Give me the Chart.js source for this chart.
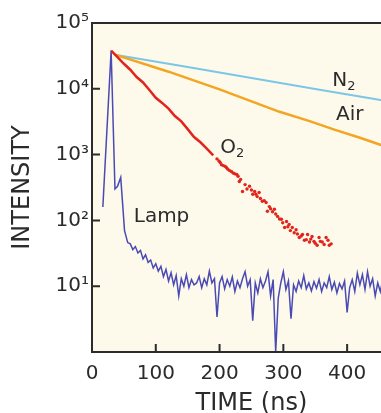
<!DOCTYPE html>
<html>
<head>
<meta charset="utf-8">
<script src="https://cdn.jsdelivr.net/npm/chart.js@4"></script>
<style>
  html, body { margin: 0; padding: 0; background: #fff; overflow: hidden; }
  #wrap { width: 381px; height: 413px; overflow: hidden; }
</style>
</head>
<body>
<div id="wrap"><canvas id="myChart" width="440" height="413"></canvas></div>
<script>
// 軸
var xTickValues = [0, 100, 200, 300, 400, 500];
var yTickValues = [10, 100, 1000, 10000, 100000];
var yTickLabels = ['10¹', '10²', '10³', '10⁴', '10⁵'];

// N2
var n2Time = [36, 150, 250, 350, 450, 500];
var n2Intensity = [33000, 21400, 14600, 9900, 6800, 5600];

// Air
var airTime = [36, 120, 200, 294, 340, 380, 420, 452, 500];
var airIntensity = [33000, 18200, 9800, 4470, 3250, 2400, 1800, 1410, 1000];

// O2 實線
var o2Time = [30, 40, 50, 60, 70, 80, 90, 100, 110, 120, 130, 140, 150, 160, 170, 180, 190];
var o2Intensity = [38000, 30200, 24000, 19500, 15100, 12500, 9600, 7300, 6100, 5000, 3850, 3200, 2440, 1850, 1540, 1230, 977];

// O2 散點
var o2DotTime = [196, 199, 201, 203, 206, 209, 211, 213, 216, 219, 222, 224, 227, 229, 231, 233, 236, 240, 243,
  247, 250, 252, 255, 257, 259, 262, 264, 267, 270, 273, 275, 278, 280, 283, 286, 288, 291, 294, 297, 299,
  302, 305, 307, 309, 311, 314, 317, 320, 322, 325, 328, 330, 333, 336, 338, 341, 343, 345, 348, 350,
  353, 356, 358, 361, 364, 367, 370, 372, 375];
var o2DotIntensity = [860, 800, 760, 700, 680, 660, 630, 600, 570, 550, 520, 510, 500, 470, 390, 420, 275, 350, 300,
  330, 290, 250, 275, 250, 230, 265, 215, 195, 200, 187, 138, 162, 150, 135, 148, 125, 115, 105, 104, 92,
  78, 96, 80, 87, 70, 78, 65, 72, 62, 55, 58, 61, 50, 51, 61, 47, 52, 57, 48, 45,
  42, 55, 48, 47, 43, 55, 50, 42, 44];

// Lamp
var lampTime = [17, 30, 36, 40, 45, 48, 51, 56, 60, 64,
  68, 72, 76, 80, 84, 88, 92, 96, 100, 104,
  108, 112, 116, 120, 124, 128, 132, 136, 140, 144,
  148, 152, 156, 160, 164, 168, 172, 176, 180, 184,
  188, 192, 196, 200, 204, 208, 212, 216, 220, 224,
  228, 232, 236, 240, 244, 248, 252, 256, 260, 264,
  268, 272, 276, 280, 284, 288, 292, 296, 300, 304,
  308, 312, 316, 320, 324, 328, 332, 336, 340, 344,
  348, 352, 356, 360, 364, 368, 372, 376, 380, 384,
  388, 392, 396, 400, 404, 408, 412, 416, 420, 424,
  428, 432, 436, 440, 444, 448, 452, 456, 460, 464,
  468, 472];
var lampIntensity = [160, 38000, 300, 330, 450, 180, 70, 46, 44, 36,
  40, 32, 35, 26, 30, 23, 25, 19, 22, 17,
  20, 14, 18, 12, 16, 10.5, 14.5, 7.1, 13, 10,
  15, 9.5, 12.6, 10.5, 11.2, 14, 9.5, 13, 10.5, 17,
  11.2, 13, 3.4, 11.2, 14, 9.1, 12.6, 10, 13.8, 8.3,
  12, 9.5, 13, 16.6, 10, 12.6, 3, 11.2, 7.9, 13,
  9.5, 12, 16.6, 7.1, 12.6, 1, 6.6, 11.2, 16.6, 8.9,
  12, 3.2, 10.5, 8.3, 12, 9.5, 14.5, 9.1, 11.2, 8.5,
  11.7, 9.3, 12.6, 8.3, 11.2, 9.5, 14, 8.9, 11.5, 7.9,
  11, 9.1, 12, 4, 9.5, 12.6, 8.3, 15.8, 10.5, 15,
  8.9, 16.6, 10, 13, 7.1, 11.2, 8.3, 12.6, 7.6, 10.5,
  8.9, 11.2];

// 曲線標籤 (資料座標)
var curveLabels = [
  { text: 'N', sub: '2', t: 395, v: 13200 },
  { text: 'Air', sub: '', t: 404, v: 4040 },
  { text: 'O', sub: '2', t: 220, v: 1280 },
  { text: 'Lamp', sub: '', t: 109, v: 113 }
];

function pts(xs, ys){
  return xs.map(function(x, i){ return { x: x, y: ys[i] }; });
}

var inkColor = '#2b2b2b';

// 背景 + 外框 + 內向刻度 + 標籤
var framePlugin = {
  id: 'frame',
  beforeDraw: function(chart){
    var a = chart.chartArea, ctx = chart.ctx;
    ctx.save();
    ctx.fillStyle = '#fdfaeb';
    ctx.fillRect(a.left, a.top, a.right - a.left, a.bottom - a.top);
    ctx.restore();
  },
  afterDraw: function(chart){
    var a = chart.chartArea, ctx = chart.ctx;
    var xs = chart.scales.x, ys = chart.scales.y;
    ctx.save();
    ctx.strokeStyle = inkColor;
    ctx.lineWidth = 2;
    ctx.strokeRect(a.left, a.top, a.right - a.left, a.bottom - a.top);
    ctx.beginPath();
    xTickValues.forEach(function(v){
      if (v === 0) return;
      var px = xs.getPixelForValue(v);
      ctx.moveTo(px, a.bottom); ctx.lineTo(px, a.bottom - 8);
    });
    yTickValues.forEach(function(v){
      var py = ys.getPixelForValue(v);
      ctx.moveTo(a.left, py); ctx.lineTo(a.left + 8, py);
    });
    ctx.stroke();

    ctx.fillStyle = inkColor;
    ctx.textBaseline = 'middle';
    ctx.textAlign = 'left';
    curveLabels.forEach(function(l){
      var px = xs.getPixelForValue(l.t), py = ys.getPixelForValue(l.v);
      ctx.font = '20px "DejaVu Sans"';
      var w = ctx.measureText(l.text).width;
      var w2 = 0;
      if (l.sub) {
        ctx.font = '13px "DejaVu Sans"';
        w2 = ctx.measureText(l.sub).width;
      }
      var x0 = px - (w + w2) / 2;
      ctx.font = '20px "DejaVu Sans"';
      ctx.fillText(l.text, x0, py);
      if (l.sub) {
        ctx.font = '13px "DejaVu Sans"';
        ctx.fillText(l.sub, x0 + w, py + 6);
      }
    });
    ctx.restore();
  }
};

new Chart(document.getElementById('myChart'), {
  type: 'line',
  data: {
    datasets: [
      {
        label: 'O2',
        data: pts(o2Time, o2Intensity),
        borderColor: '#e2251c',
        borderWidth: 2.5,
        pointRadius: 0,
        order: 1
      },
      {
        label: 'O2 dots',
        data: pts(o2DotTime, o2DotIntensity),
        showLine: false,
        pointRadius: 1.7,
        pointBorderWidth: 0,
        pointBackgroundColor: '#e2251c',
        order: 1
      },
      {
        label: 'Air',
        data: pts(airTime, airIntensity),
        borderColor: '#f4a423',
        borderWidth: 2.5,
        pointRadius: 0,
        order: 2
      },
      {
        label: 'N2',
        data: pts(n2Time, n2Intensity),
        borderColor: '#7cc6e6',
        borderWidth: 2,
        pointRadius: 0,
        order: 3
      },
      {
        label: 'Lamp',
        data: pts(lampTime, lampIntensity),
        borderColor: '#4a4ab4',
        borderWidth: 1.5,
        pointRadius: 0,
        order: 4
      }
    ]
  },
  options: {
    responsive: false,
    animation: false,
    events: [],
    layout: { padding: { top: 23, right: 28, bottom: 0, left: 0 } },
    plugins: { legend: { display: false }, tooltip: { enabled: false } },
    scales: {
      x: {
        type: 'linear',
        min: 0,
        max: 500,
        grid: { display: false, drawTicks: false },
        border: { display: false },
        afterBuildTicks: function(s){ s.ticks = xTickValues.map(function(v){ return { value: v }; }); },
        ticks: { color: inkColor, font: { family: 'DejaVu Sans', size: 20 }, padding: 10, maxRotation: 0 },
        title: { display: true, text: 'TIME (ns)', color: inkColor, font: { family: 'DejaVu Sans', size: 24, lineHeight: 0.8 }, padding: 0 },
        afterFit: function(s){ s.height = 61; }
      },
      y: {
        type: 'logarithmic',
        min: 1,
        max: 100000,
        grid: { display: false, drawTicks: false },
        border: { display: false },
        afterBuildTicks: function(s){ s.ticks = yTickValues.map(function(v){ return { value: v }; }); },
        ticks: {
          color: inkColor,
          font: { family: 'DejaVu Sans', size: 20 },
          padding: 3,
          callback: function(v){ var i = yTickValues.indexOf(v); return i >= 0 ? yTickLabels[i] : ''; }
        },
        title: { display: true, text: 'INTENSITY', color: inkColor, font: { family: 'DejaVu Sans', size: 24, lineHeight: 1.2 }, padding: { top: 8, bottom: 0 } },
        afterFit: function(s){ s.width = 92; }
      }
    }
  },
  plugins: [framePlugin]
});
</script>
</body>
</html>
